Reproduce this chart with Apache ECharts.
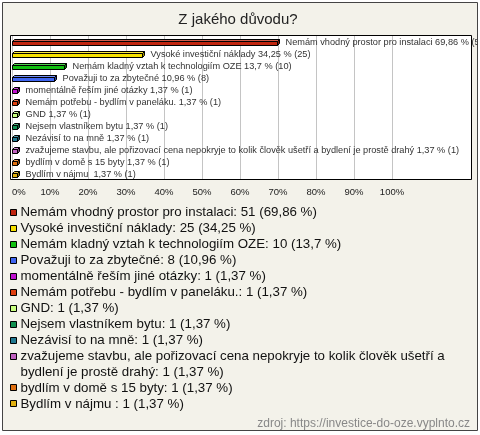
<!DOCTYPE html>
<html>
<head>
<meta charset="utf-8">
<script src="https://cdn.jsdelivr.net/npm/echarts@6/dist/echarts.min.js"></script>
<style>
html,body{margin:0;padding:0;background:#ffffff;}
#chart{width:480px;height:435px;}
</style>
</head>
<body>
<div id="chart"></div>
<script>
const titleText = "Z jakého důvodu?";
const sourceText = "zdroj: https://investice-do-oze.vyplnto.cz";
const categories = [
  "Nemám vhodný prostor pro instalaci",
  "Vysoké investiční náklady",
  "Nemám kladný vztah k technologiím OZE",
  "Považuji to za zbytečné",
  "momentálně řeším jiné otázky",
  "Nemám potřebu - bydlím v paneláku.",
  "GND",
  "Nejsem vlastníkem bytu",
  "Nezávisí to na mně",
  "zvažujeme stavbu, ale pořizovací cena nepokryje to kolik člověk ušetří a bydlení je prostě drahý",
  "bydlím v domě s 15 byty",
  "Bydlím v nájmu "
];
const counts = [51, 25, 10, 8, 1, 1, 1, 1, 1, 1, 1, 1];
const percents = [69.86, 34.25, 13.7, 10.96, 1.37, 1.37, 1.37, 1.37, 1.37, 1.37, 1.37, 1.37];
const colors = ["#c0250f", "#f5e000", "#10c010", "#3f65f0", "#c010d0", "#e04010",
                "#c8ff80", "#109050", "#207890", "#c060c0", "#e07010", "#e0b010"];
const xTicks = [0, 10, 20, 30, 40, 50, 60, 70, 80, 90, 100];

const FONT = 'Liberation Sans, Arial, sans-serif';
const fmt = v => String(v).replace('.', ',');

function shade(hex, f) {
  let r = parseInt(hex.slice(1,3),16), g = parseInt(hex.slice(3,5),16), b = parseInt(hex.slice(5,7),16);
  if (f > 0) { r = r + (255-r)*f; g = g + (255-g)*f; b = b + (255-b)*f; }
  else { r = r*(1+f); g = g*(1+f); b = b*(1+f); }
  return 'rgb(' + Math.round(r) + ',' + Math.round(g) + ',' + Math.round(b) + ')';
}

const measureCtx = document.createElement('canvas').getContext('2d');
function wrap(text, fontSize, maxW) {
  measureCtx.font = fontSize + 'px ' + FONT;
  const words = text.split(' ');
  const lines = [];
  let cur = '';
  words.forEach(w => {
    const t = cur ? cur + ' ' + w : w;
    if (cur && measureCtx.measureText(t).width > maxW) { lines.push(cur); cur = w; }
    else cur = t;
  });
  lines.push(cur);
  return lines;
}

const chart = echarts.init(document.getElementById('chart'), null, {renderer: 'canvas'});

const barData = percents.map((p, i) => [p, i]);

function renderBar(params, api) {
  const i = api.value(1);
  const v = api.value(0);
  const p0 = api.coord([0, i]);
  const p1 = api.coord([v, i]);
  const cy = Math.round(p0[1]);
  const x0 = Math.round(p0[0]) + 0.5;
  const x1 = Math.round(p1[0]) + 0.5;
  const d = 2;
  const top = cy - 1 + 0.5, bot = cy + 3 + 0.5;
  const c = colors[i];
  const stroke = '#000';
  return {
    type: 'group',
    children: [
      { type: 'polygon', shape: { points: [[x0, top], [x0 + d, top - d], [x1 + d, top - d], [x1, top]] },
        style: { fill: shade(c, 0.25), stroke: stroke, lineWidth: 1 } },
      { type: 'polygon', shape: { points: [[x1, top], [x1 + d, top - d], [x1 + d, bot - d], [x1, bot]] },
        style: { fill: shade(c, -0.35), stroke: stroke, lineWidth: 1 } },
      { type: 'rect', shape: { x: x0, y: top, width: x1 - x0, height: bot - top },
        style: { fill: c, stroke: stroke, lineWidth: 1 } },
      { type: 'text', style: { x: x1 + 8, y: cy + 0.5,
          text: categories[i] + ' ' + fmt(percents[i]) + ' % (' + counts[i] + ')',
          fill: '#333', fontSize: 9.2, fontFamily: FONT,
          verticalAlign: 'middle', align: 'left' } }
    ]
  };
}

// legend graphics (built from data arrays)
const LFS = 13.3;
const legendEls = [];
let ly = 212.5;
categories.forEach((name, i) => {
  const txt = name + ': ' + counts[i] + ' (' + fmt(percents[i]) + ' %)';
  const lines = wrap(txt, LFS, 440);
  legendEls.push({ type: 'rect', shape: { x: 10.5, y: Math.round(ly) - 3.5, width: 6, height: 6 },
    style: { fill: colors[i], stroke: '#000', lineWidth: 1 }, z: 5 });
  lines.forEach((ln, k) => {
    legendEls.push({ type: 'text', x: 20.5, y: ly + k * 15.5,
      style: { text: ln, fill: '#111', fontSize: LFS, fontFamily: FONT,
        verticalAlign: 'middle', align: 'left' }, z: 5 });
  });
  ly += 16 + (lines.length - 1) * 15.5;
});

const option = {
  animation: false,
  grid: { left: 12, right: 88, top: 35.5, height: 144, containLabel: false },
  xAxis: {
    type: 'value', min: 0, max: 100, interval: 10,
    axisLine: { show: false }, axisTick: { show: false },
    splitLine: { show: true, lineStyle: { color: '#c4c4c4', width: 1 } },
    axisLabel: { formatter: '{value}%', fontSize: 9.5, color: '#222', margin: 8,
      fontFamily: FONT, alignMinLabel: 'left', customValues: xTicks }
  },
  yAxis: {
    type: 'category', data: categories, inverse: true,
    axisLine: { show: false }, axisTick: { show: false }, axisLabel: { show: false },
    splitLine: { show: false }
  },
  series: [{
    type: 'custom', data: barData, encode: { x: 0, y: 1 },
    renderItem: renderBar, z: 3
  }],
  graphic: { elements: [
    { type: 'rect', shape: { x: 2.5, y: 2.5, width: 475, height: 428 },
      style: { fill: '#f3f2ea', stroke: null }, z: -20 },
    { type: 'rect', shape: { x: 10.5, y: 35.5, width: 461, height: 144 },
      style: { fill: '#ffffff', stroke: null }, z: -10 },
    { type: 'rect', shape: { x: 10.5, y: 35.5, width: 461, height: 144 },
      style: { fill: null, stroke: '#000', lineWidth: 1 }, z: 50 },
    { type: 'rect', shape: { x: 478, y: 0, width: 2, height: 435 },
      style: { fill: '#ffffff' }, z: 60 },
    { type: 'rect', shape: { x: 2.5, y: 2.5, width: 475, height: 428 },
      style: { fill: null, stroke: '#444', lineWidth: 1 }, z: 70 },
    { type: 'text', x: 238, y: 20,
      style: { text: titleText, fontSize: 15, fill: '#222', fontFamily: FONT,
        align: 'center', verticalAlign: 'middle' }, z: 5 },
    { type: 'text', x: 470, y: 424,
      style: { text: sourceText, fontSize: 12, fill: '#888', fontFamily: FONT,
        align: 'right', verticalAlign: 'middle' }, z: 5 }
  ].concat(legendEls) }
};
chart.setOption(option);
</script>
</body>
</html>
